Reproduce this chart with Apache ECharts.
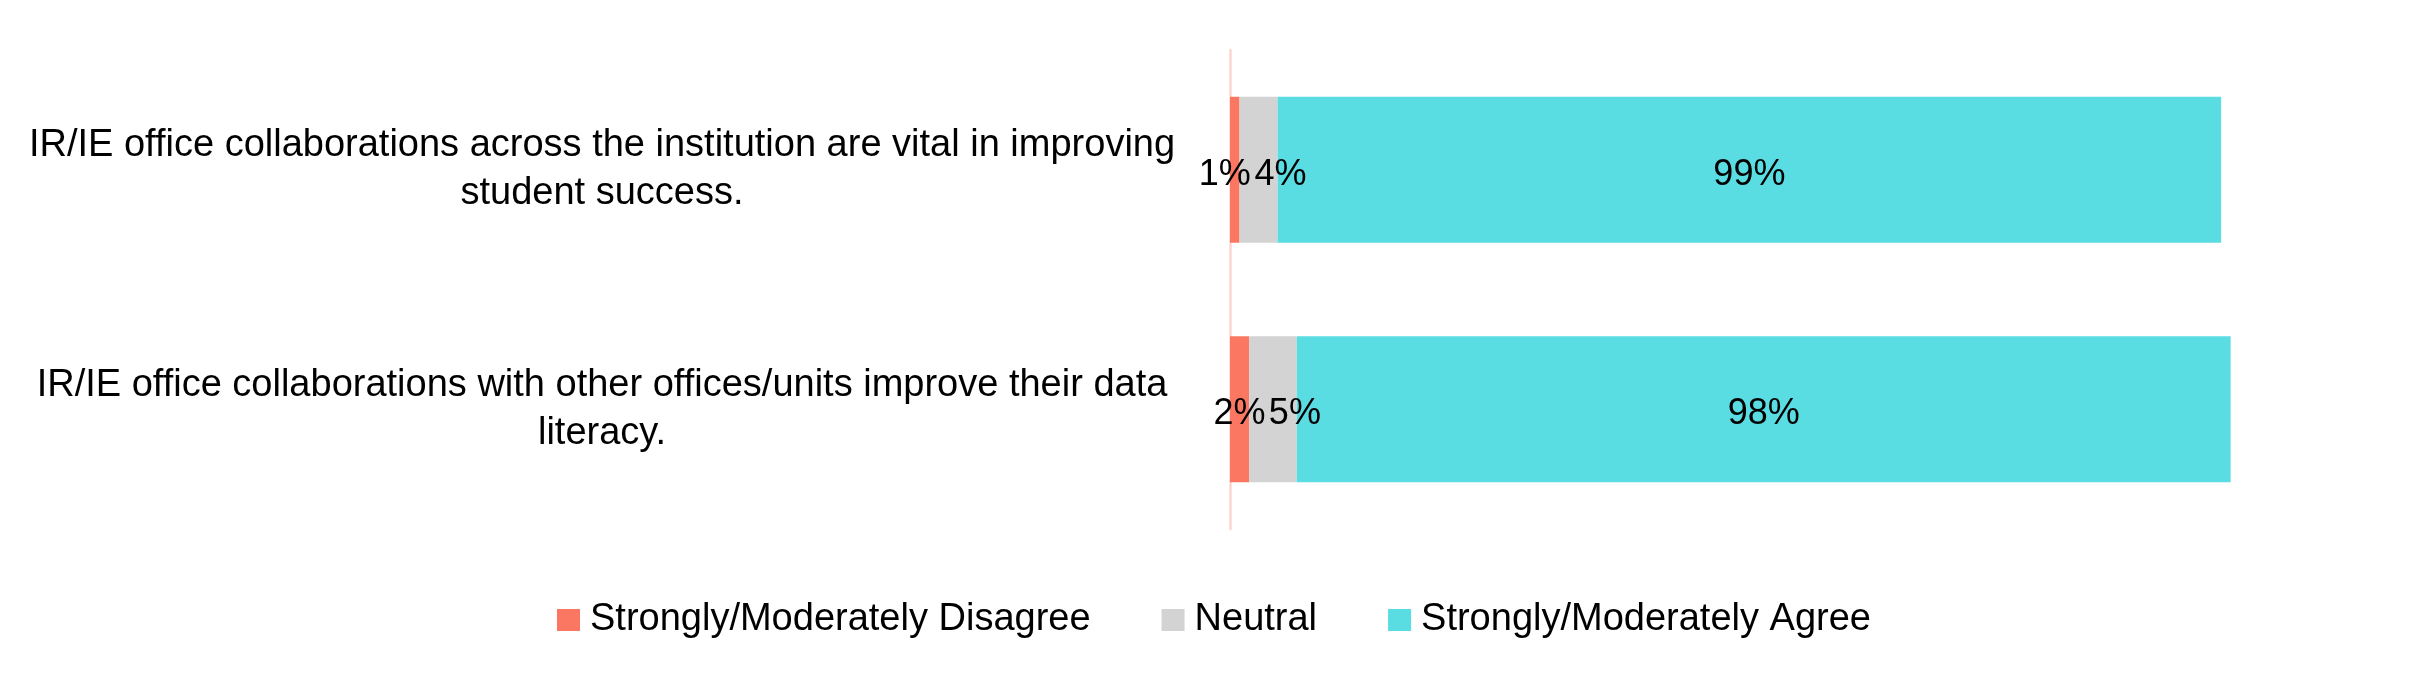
<!DOCTYPE html>
<html>
<head>
<meta charset="utf-8">
<script src="https://cdn.jsdelivr.net/npm/echarts@6/dist/echarts.min.js"></script>
<style>
html,body{margin:0;padding:0;background:#fff;}
#chart{width:2433px;height:692px;}
</style>
</head>
<body>
<div id="chart"></div>
<script>
const categories = [
  "IR/IE office collaborations across the institution are vital in improving\nstudent success.",
  "IR/IE office collaborations with other offices/units improve their data\nliteracy."
];
const seriesNames = ["Strongly/Moderately Disagree", "Neutral", "Strongly/Moderately Agree"];
const disagree = [1, 2];
const neutral = [4, 5];
const agree = [99, 98];

const FONT = "'Liberation Sans', Arial, sans-serif";
const colors = ["#FC7762", "#D3D3D3", "#5ADCE3"];
const labelOffsets = [
  [[-10, 5], [0, 5]],
  [[22, 5], [22, 5]],
  [[0, 5], [0, 5]]
];
const values = [disagree, neutral, agree];

const chart = echarts.init(document.getElementById('chart'));
chart.setOption({
  animation: false,
  backgroundColor: '#ffffff',
  textStyle: { fontFamily: FONT },
  grid: { left: 1230, width: 1048.3, top: 50, height: 479 },
  xAxis: {
    type: 'value', min: 0, max: 110, show: false
  },
  yAxis: {
    type: 'category', data: categories, inverse: true,
    axisLine: { show: true, lineStyle: { color: '#FDD5CF', width: 2.5 } },
    axisTick: { show: false },
    axisLabel: {
      margin: 628, align: 'center', fontSize: 38, lineHeight: 48,
      color: '#000', fontFamily: FONT, padding: [0, 0, 8, 0]
    }
  },
  legend: {
    left: 552, top: 596, icon: 'rect', itemWidth: 23, itemHeight: 22, itemGap: 71,
    textStyle: { fontSize: 38, color: '#000', fontFamily: FONT, padding: [0, 0, 0, 5] },
    data: seriesNames
  },
  series: seriesNames.map((name, si) => ({
    name: name,
    type: 'bar',
    stack: 'total',
    barWidth: 146,
    itemStyle: { color: colors[si] },
    label: {
      show: true, position: 'inside', formatter: '{c}%',
      fontSize: 36, color: '#000', fontFamily: FONT
    },
    data: values[si].map((v, i) => ({ value: v, label: { offset: labelOffsets[si][i] } }))
  }))
});
</script>
</body>
</html>
